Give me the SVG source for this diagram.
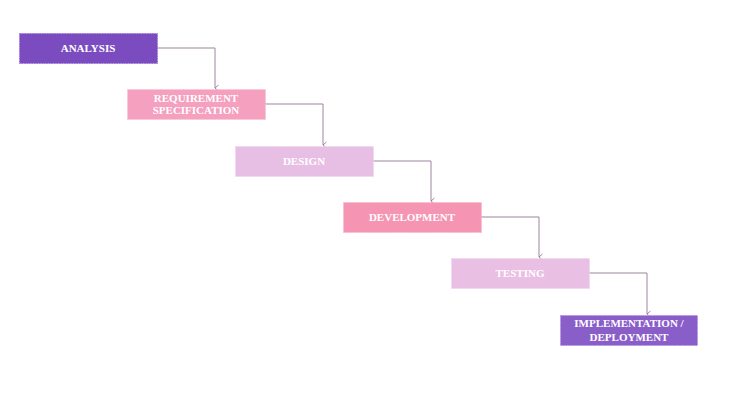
<svg xmlns="http://www.w3.org/2000/svg" width="730" height="404" viewBox="0 0 730 404">
<style>
.box{stroke-width:1;stroke-dasharray:1.5 1}
.t{font-family:"Liberation Serif","Times New Roman",serif;font-weight:bold;font-size:11px;fill:#ffffff;text-anchor:middle}
.c{fill:none;stroke:#9d859f;stroke-width:1}
</style>
<defs>
<marker id="ah" viewBox="0 0 8 8" refX="4" refY="7" markerWidth="8" markerHeight="8" markerUnits="userSpaceOnUse" orient="auto-start-reverse">
<path d="M1,3.5 L4,7 L7,3.5" fill="none" stroke="#9d859f" stroke-width="1"/>
</marker>
</defs>
<rect width="730" height="404" fill="#ffffff"/>
<g id="connectors">
<path class="c" d="M157,48 H215 V88" marker-end="url(#ah)"/>
<path class="c" d="M265,104 H323 V145" marker-end="url(#ah)"/>
<path class="c" d="M373,161 H431 V201" marker-end="url(#ah)"/>
<path class="c" d="M481,217 H539 V257" marker-end="url(#ah)"/>
<path class="c" d="M589,273 H647 V314" marker-end="url(#ah)"/>
</g>
<g id="analysis">
<rect class="box" x="19.5" y="33.5" width="138" height="30" fill="#7b4cc0" stroke="#a07ad8"/>
<text class="t" x="88" y="52">ANALYSIS</text>
</g>
<g id="requirement">
<rect class="box" x="127.5" y="89.5" width="138" height="30" fill="#f4a0be" stroke="#f8c4d6"/>
<text class="t" x="196" y="101.5">REQUIREMENT</text>
<text class="t" x="196" y="114">SPECIFICATION</text>
</g>
<g id="design">
<rect class="box" x="235.5" y="146.5" width="138" height="30" fill="#e8bfe4" stroke="#f1d6ee"/>
<text class="t" x="304" y="165">DESIGN</text>
</g>
<g id="development">
<rect class="box" x="343.5" y="202.5" width="138" height="30" fill="#f595b3" stroke="#f8bacd"/>
<text class="t" x="412" y="221">DEVELOPMENT</text>
</g>
<g id="testing">
<rect class="box" x="451.5" y="258.5" width="138" height="30" fill="#e9c0e4" stroke="#f1d6ee"/>
<text class="t" x="520" y="277">TESTING</text>
</g>
<g id="implementation">
<rect class="box" x="560.5" y="315.5" width="137" height="30" fill="#8a5ec9" stroke="#b592e6"/>
<text class="t" x="629" y="327">IMPLEMENTATION /</text>
<text class="t" x="629" y="340.5">DEPLOYMENT</text>
</g>
</svg>
